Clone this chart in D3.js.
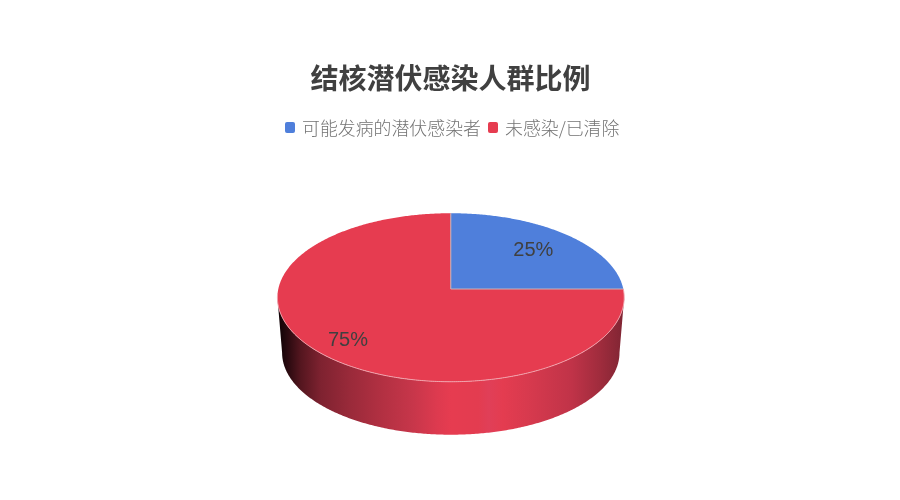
<!DOCTYPE html>
<html>
<head>
<meta charset="utf-8">
<script src="https://cdn.jsdelivr.net/npm/d3@7"></script>
<style>
  html, body { margin: 0; padding: 0; background: #fff; }
  svg { display: block; filter: blur(0.35px); }
  text { font-family: "Noto Sans CJK SC", sans-serif; }
</style>
</head>
<body>
<svg id="chart" width="900" height="500"></svg>
<script>
const chartTitle = '结核潜伏感染人群比例';
const categories = ['可能发病的潜伏感染者', '未感染/已清除'];
const shares = [25, 75];
const colors = ['#4f7fdb', '#e63c50'];
// wall shading, left to right across the pie
const wallStops = [
  [0, '#0c0205'], [0.03, '#2b0a10'], [0.066, '#54161f'], [0.124, '#7e2230'],
  [0.21, '#9a2a3a'], [0.3, '#b23042'], [0.39, '#c7364a'], [0.46, '#dd3a4f'],
  [0.5, '#e63c50'], [0.58, '#e33c50'], [0.61, '#e03f58'], [0.65, '#e43c50'],
  [0.72, '#d83a4e'], [0.85, '#c03348'], [0.93, '#a02c3d'], [1, '#7f2533']
];

const svg = d3.select('#chart');
const defs = svg.append('defs');

// perspective of the pie disc: nearer edge is drawn larger
const cx = 450.8, cy = 289, radiusX = 172.5, radiusY = 83.4, tilt = -0.1006;
const depth = 55.5, depthScale = 0.973;
const labelRadius = [0.711, 0.795];

function project(angle, r, drop, scale) {
  const u = Math.sin(angle) * r, v = -Math.cos(angle) * r;
  const w = 1 + tilt * v;
  return [cx + scale * radiusX * u / w, cy + drop + scale * radiusY * v / w];
}

const arcs = d3.pie().sort(null).value(d => d)(shares);
const line = d3.line();

function rim(a0, a1, drop, scale) {
  const n = Math.max(2, Math.ceil((a1 - a0) / 0.01));
  return d3.range(n + 1).map(i => project(a0 + (a1 - a0) * i / n, 1, drop, scale));
}

// side wall: only the front half of the rim shows
const grad = defs.append('linearGradient')
  .attr('id', 'wall').attr('gradientUnits', 'userSpaceOnUse')
  .attr('x1', cx - 173).attr('x2', cx + 173).attr('y1', 0).attr('y2', 0);
grad.selectAll('stop').data(wallStops).enter().append('stop')
  .attr('offset', d => d[0]).attr('stop-color', d => d[1]);

const frontFrom = Math.PI / 2 + 0.1, frontTo = 3 * Math.PI / 2 - 0.1;
const wallPts = rim(frontFrom, frontTo, 0, 1)
  .concat(rim(frontFrom, frontTo, depth, depthScale).reverse());
svg.append('path')
  .attr('d', line(wallPts) + 'Z')
  .attr('fill', 'url(#wall)');

// top of the pie
svg.append('g').selectAll('path').data(arcs).enter().append('path')
  .attr('d', d => line([project(0, 0, 0, 1)].concat(rim(d.startAngle, d.endAngle, 0, 1))) + 'Z')
  .attr('fill', (d, i) => colors[i]);

// pale seam along the slice borders and the front edge
svg.append('path')
  .attr('d', line([project(Math.PI / 2, 1, 0, 1), project(0, 0, 0, 1), project(0, 1, 0, 1)]))
  .attr('fill', 'none').attr('stroke', '#c9b4b8').attr('stroke-width', 1);
svg.append('path')
  .attr('d', line(rim(frontFrom - 0.1, frontTo + 0.05, 0, 1)))
  .attr('fill', 'none').attr('stroke', '#f1a3ad').attr('stroke-width', 1);

// data labels
svg.append('g').selectAll('text').data(arcs).enter().append('text')
  .attr('x', (d, i) => project((d.startAngle + d.endAngle) / 2, labelRadius[i], 0, 1)[0])
  .attr('y', (d, i) => project((d.startAngle + d.endAngle) / 2, labelRadius[i], 0, 1)[1])
  .attr('text-anchor', 'middle').attr('dominant-baseline', 'central')
  .style('font-family', '"Liberation Sans", Arial, sans-serif')
  .style('font-size', '20px').attr('fill', '#404040')
  .text(d => d.data + '%');

// title
svg.append('text')
  .attr('x', 450.5).attr('y', 88.5).attr('text-anchor', 'middle')
  .style('font-size', '28px').style('font-weight', 700).attr('fill', '#404040')
  .text(chartTitle);

// legend
const legendX = [285, 488];
const legend = svg.append('g').selectAll('g').data(categories).enter().append('g')
  .attr('transform', (d, i) => `translate(${legendX[i]},122)`);
legend.append('rect')
  .attr('width', 10).attr('height', 11).attr('rx', 2)
  .attr('fill', (d, i) => colors[i]);
legend.append('text')
  .attr('x', 17).attr('y', 12.5)
  .style('font-size', '17.9px').style('font-weight', 300).attr('fill', '#737373')
  .text(d => d);
</script>
</body>
</html>
